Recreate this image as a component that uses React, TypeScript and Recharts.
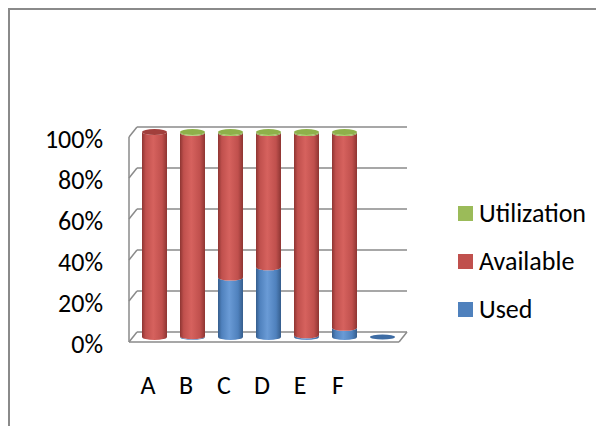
import React from 'react';
import { BarChart, Bar, XAxis, YAxis, CartesianGrid } from 'recharts';

const categories = ['A', 'B', 'C', 'D', 'E', 'F', ''];
const usedValues = [0, 0.4, 29, 34, 0.8, 4.5, 0];
const availableValues = [100, 99.2, 70.5, 65.5, 98.7, 95, 0];
const utilizationValues = [0, 0.4, 0.5, 0.5, 0.5, 0.5, 0];
const yTicks = [0, 0.2, 0.4, 0.6, 0.8, 1];
const seriesKeys = ['used', 'available', 'utilization'];
const seriesNames = ['Used', 'Available', 'Utilization'];

const data = categories.map((c, i) => ({
  name: c,
  used: usedValues[i],
  available: availableValues[i],
  utilization: utilizationValues[i],
}));

const FONT = "Carlito, Calibri, 'Liberation Sans', Arial, sans-serif";
const W = 600;
const H = 420;
const M = { top: 122, right: 209, bottom: 63, left: 65 };
const PLOT_H = H - M.top - M.bottom - 30;
const PLOT_BOTTOM = M.top + PLOT_H;
const DX = 6;
const DY = 5;
const GRID = '#8a8a8a';
const FS = 26;

const palette = [
  { dark: '#355d8c', mid: '#4f81bd', light: '#6a9bd6', cap: '#3e6ca4', legend: '#4f81bd' },
  { dark: '#8e3532', mid: '#c0504d', light: '#d6625e', cap: '#a13f3c', legend: '#c0504d' },
  { dark: '#6e8a38', mid: '#9bbb59', light: '#aecd6c', cap: '#8eb04a', legend: '#9bbb59' },
];

function makeShape(idx: number) {
  return (props: any) => {
    const { x, y, width, height, payload } = props;
    if (x == null || y == null || width == null || !payload) return <g />;
    const vals = seriesKeys.map((k) => Number(payload[k]) || 0);
    let top = -1;
    for (let i = 0; i < vals.length; i++) if (vals[i] > 0) top = i;
    const rx = width / 2;
    const ry = 3;
    const cx = x + rx;
    const h = Math.max(0, Number(height) || 0);
    if (top === -1) {
      if (idx === 0) return <ellipse cx={cx} cy={y + h} rx={rx} ry={ry - 0.5} fill={palette[0].cap} />;
      return <g />;
    }
    if (vals[idx] <= 0) return <g />;
    const d = `M${x},${y} A${rx},${ry} 0 0 0 ${x + width},${y} L${x + width},${y + h} A${rx},${ry} 0 0 1 ${x},${y + h} Z`;
    return (
      <g>
        <path d={d} fill={`url(#cyl-${idx})`} />
        {idx === top && <ellipse cx={cx} cy={y} rx={rx} ry={ry} fill={palette[idx].cap} />}
      </g>
    );
  };
}

const gridLine = (p: any) => {
  const { x1, x2, y1, index } = p;
  const y = y1;
  const isFloor = Math.abs(y - PLOT_BOTTOM) < 1;
  const step = PLOT_H / 5;
  if (isFloor) {
    return (
      <g key={`g-${index}`}>
        <line x1={x1 - DX + 8} y1={y - DY} x2={x2 + DX} y2={y - DY} stroke={GRID} strokeWidth={1.5} />
        <line x1={x1 - DX} y1={y + DY} x2={x2 - 2} y2={y + DY} stroke={GRID} strokeWidth={1.5} />
        <line x1={x1 - DX} y1={y + DY} x2={x1 + 2} y2={y - DY} stroke={GRID} strokeWidth={1.5} />
        <line x1={x2 - 2} y1={y + DY} x2={x2 + DX} y2={y - DY} stroke={GRID} strokeWidth={1.5} />
      </g>
    );
  }
  return (
    <g key={`g-${index}`}>
      <line x1={x1 + 2} y1={y - DY} x2={x2 + DX} y2={y - DY} stroke={GRID} strokeWidth={1.5} />
      <line x1={x1 - DX} y1={y + DY} x2={x1 + 2} y2={y - DY} stroke={GRID} strokeWidth={1.5} />
      <line x1={x1 - DX} y1={y + DY} x2={x1 - DX} y2={y + DY + step} stroke={GRID} strokeWidth={1.5} />
    </g>
  );
};

const YTick = (props: any) => {
  const { y, payload } = props;
  return (
    <text x={M.left + 28} y={y + 7} textAnchor="end" dominantBaseline="central" fontSize={FS} fontFamily={FONT} fill="#000">
      {`${Math.round(payload.value * 100)}%`}
    </text>
  );
};

const XTick = (props: any) => {
  const { x, payload } = props;
  return (
    <text x={x - 6} y={PLOT_BOTTOM + 48} textAnchor="middle" dominantBaseline="central" fontSize={FS} fontFamily={FONT} fill="#000">
      {payload.value}
    </text>
  );
};

export default function App() {
  return (
    <div style={{ position: 'relative', width: W, height: H, border: '2px solid #8a8a8a', background: '#fff' }}>
      <BarChart width={W} height={H} data={data} stackOffset="expand" margin={M} barSize={25}>
        <defs>
          {palette.map((c, i) => (
            <linearGradient key={i} id={`cyl-${i}`} x1="0" y1="0" x2="1" y2="0">
              <stop offset="0" stopColor={c.dark} />
              <stop offset="0.15" stopColor={c.mid} />
              <stop offset="0.45" stopColor={c.light} />
              <stop offset="0.8" stopColor={c.mid} />
              <stop offset="1" stopColor={c.dark} />
            </linearGradient>
          ))}
        </defs>
        <CartesianGrid vertical={false} horizontal={gridLine} />
        <XAxis dataKey="name" axisLine={false} tickLine={false} height={30} tick={<XTick />} interval={0} />
        <YAxis domain={[0, 1]} ticks={yTicks} axisLine={false} tickLine={false} width={60} tick={<YTick />} />
        {seriesKeys.map((k, i) => (
          <Bar key={k} dataKey={k} name={seriesNames[i]} stackId="s" fill={palette[i].mid} shape={makeShape(i)} isAnimationActive={false} />
        ))}
      </BarChart>
      <div style={{ position: 'absolute', left: 448, top: 179, fontFamily: FONT, fontSize: FS }}>
        {[...seriesNames].reverse().map((n, j) => {
          const i = seriesNames.length - 1 - j;
          return (
            <div key={n} style={{ display: 'flex', alignItems: 'center', height: 48 }}>
              <div style={{ width: 15, height: 15, background: palette[i].legend, marginRight: 6 }} />
              <span>{n}</span>
            </div>
          );
        })}
      </div>
    </div>
  );
}
